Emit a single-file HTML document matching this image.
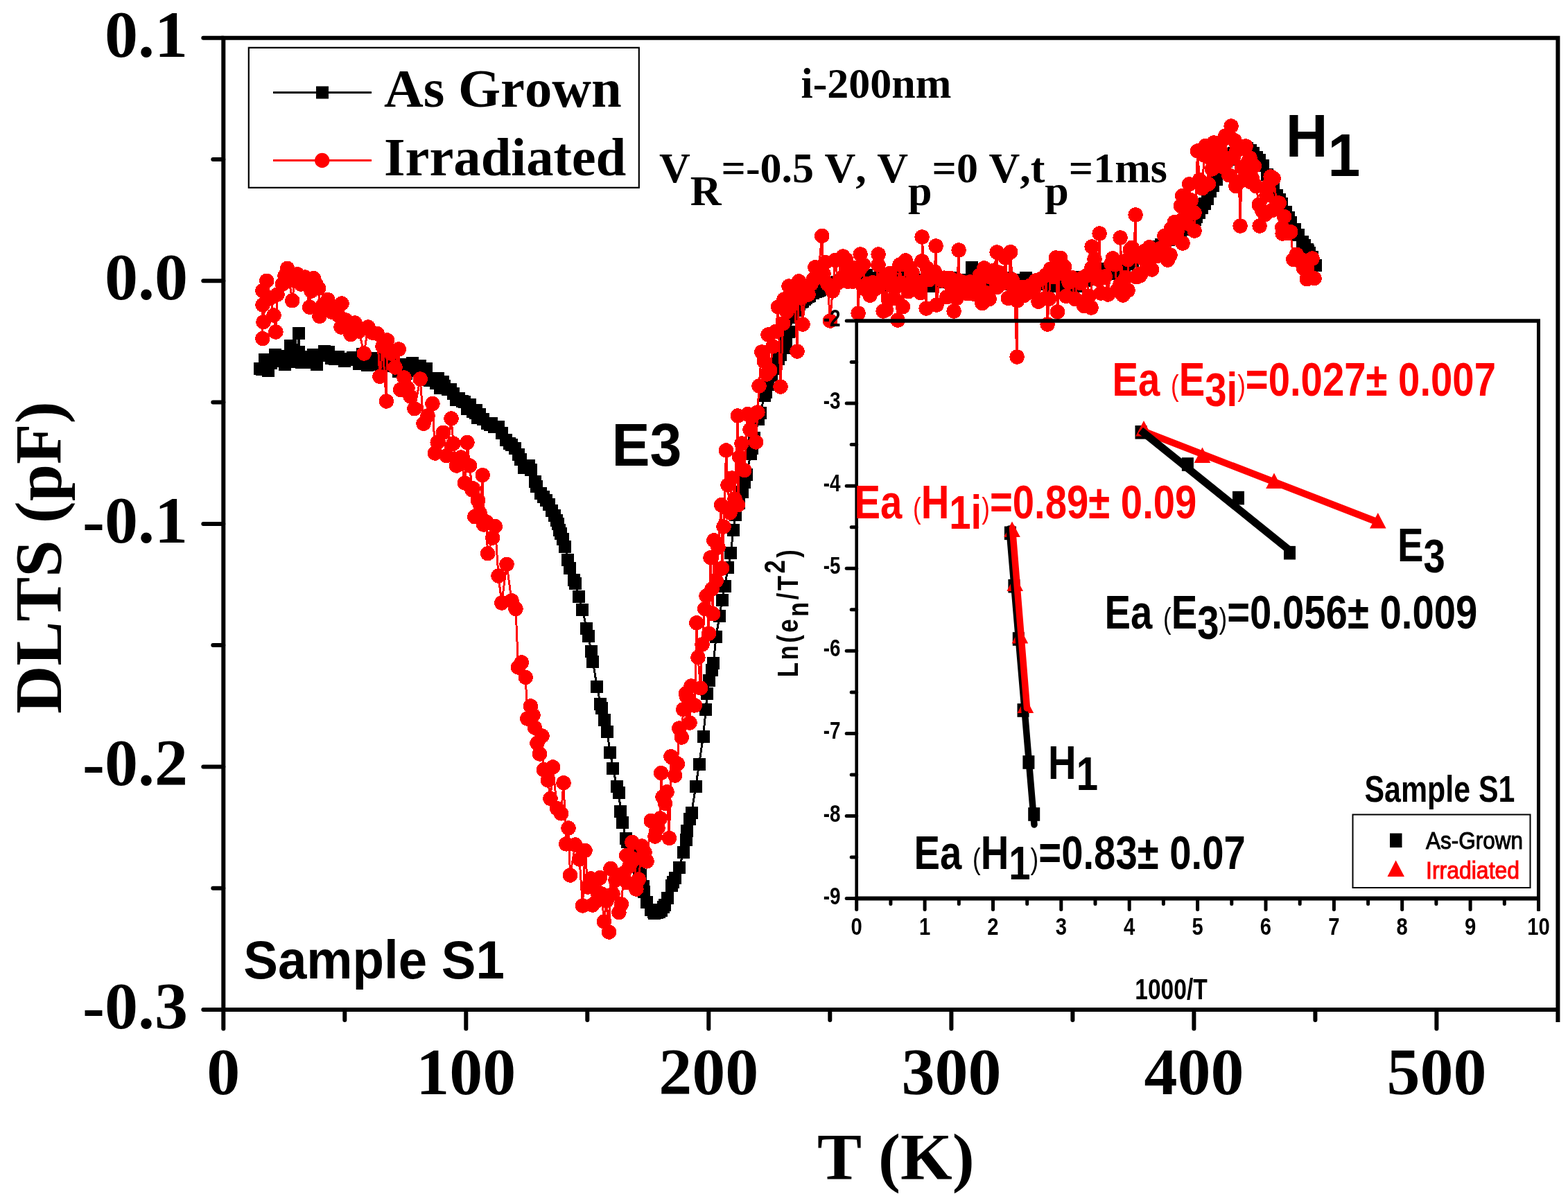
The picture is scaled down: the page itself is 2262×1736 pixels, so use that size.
<!DOCTYPE html>
<html><head><meta charset="utf-8"><title>DLTS spectra</title>
<style>html,body{margin:0;padding:0;background:#fff}svg{display:block}text{font-kerning:none}</style>
</head><body>
<svg width="2262" height="1736" viewBox="0 0 2262 1736">
<rect width="100%" height="100%" fill="#fff"/>
<g id="series-black" shape-rendering="crispEdges">
<polyline fill="none" stroke="#000" stroke-width="3" points="375.0,532.0 377.7,533.1 381.5,519.4 387.4,534.8 391.2,523.6 397.0,512.2 400.8,517.6 404.6,513.6 407.3,520.7 411.1,526.0 416.0,517.0 418.7,522.3 419.0,499.0 423.6,510.7 428.6,516.7 431.0,481.0 431.2,508.0 433.0,517.3 434.7,522.9 438.5,518.0 443.4,515.3 447.2,523.3 448.9,515.0 451.6,512.0 454.2,514.4 456.9,525.7 462.8,513.3 464.5,513.3 468.3,507.0 474.2,507.5 478.0,517.0 482.9,517.6 486.7,515.3 488.4,515.3 492.2,518.0 497.2,521.1 501.0,518.9 506.9,519.0 508.6,516.3 514.5,519.0 518.3,524.5 520.0,519.5 522.6,511.2 528.5,524.0 530.2,526.9 531.9,519.0 533.7,519.3 537.5,522.4 540.1,517.4 545.1,525.7 550.9,523.1 554.7,514.6 558.5,526.8 562.3,519.1 565.0,524.9 567.7,528.1 573.5,526.9 575.3,536.3 579.1,531.0 581.7,526.2 583.4,538.4 586.1,539.0 588.7,528.0 594.6,523.7 600.5,534.9 605.5,527.8 611.4,541.7 613.1,545.1 614.8,531.5 619.7,549.0 623.5,547.9 628.5,553.4 632.3,546.4 634.9,560.1 638.7,550.5 641.4,556.7 646.3,562.2 650.1,561.5 653.9,567.9 657.7,576.8 661.5,575.4 666.5,579.1 670.3,580.3 674.1,590.1 677.9,584.3 681.7,593.9 685.5,596.4 687.2,591.9 688.9,602.8 691.5,597.6 697.4,605.1 703.3,610.6 707.1,613.0 708.8,610.5 712.6,616.4 714.3,615.7 719.3,615.8 724.2,625.0 730.1,634.5 735.0,639.6 737.7,641.8 742.6,647.3 747.6,655.9 751.4,662.7 756.3,674.9 761.3,673.7 763.0,671.8 765.6,677.9 771.5,694.5 774.2,701.9 780.1,712.2 783.9,717.2 787.7,722.2 791.5,728.3 796.4,736.8 800.2,744.4 802.9,750.8 804.6,756.3 807.2,764.7 809.0,769.9 811.6,777.7 815.4,789.1 819.2,808.1 821.9,819.6 827.8,836.6 829.5,841.9 835.4,861.3 840.3,879.5 846.2,906.9 848.9,918.4 852.7,939.5 855.3,954.6 861.2,990.9 866.1,1015.5 867.9,1021.5 871.7,1039.1 875.5,1056.3 880.4,1085.6 884.2,1108.8 890.1,1135.3 892.7,1144.2 895.4,1171.3 898.1,1187.0 903.0,1210.0 904.7,1215.2 908.5,1225.9 912.3,1234.6 918.2,1248.0 922.0,1258.3 923.7,1263.4 927.5,1278.6 929.2,1286.9 933.0,1302.1 938.9,1312.6 942.7,1316.2 944.4,1317.5 948.2,1316.9 950.9,1316.0 953.5,1313.5 957.3,1309.3 959.1,1305.9 962.9,1295.7 968.7,1277.9 971.4,1273.0 974.1,1266.8 980.0,1251.5 985.8,1230.0 989.6,1211.8 991.4,1198.6 995.2,1182.4 997.8,1172.7 1003.7,1134.5 1008.6,1102.5 1014.5,1062.5 1018.3,1024.2 1020.0,1001.4 1022.7,981.9 1026.5,966.5 1029.2,956.5 1033.0,919.2 1037.9,888.6 1041.7,866.0 1045.5,845.8 1050.4,819.1 1054.2,797.8 1058.0,765.1 1060.7,742.5 1065.6,726.1 1070.6,710.3 1074.4,696.1 1077.0,684.8 1082.9,655.3 1084.6,647.4 1088.4,632.2 1094.3,605.2 1097.0,595.6 1102.9,571.3 1104.6,566.2 1108.4,554.8 1113.3,541.7 1117.1,532.2 1123.0,517.8 1125.7,512.1 1130.6,501.5 1134.4,493.4 1138.2,479.4 1144.1,457.8 1147.9,448.0 1150.6,442.3 1153.2,439.3 1155.9,436.3 1157.6,434.5 1161.4,431.6 1163.1,430.2 1165.8,428.2 1167.5,427.1 1173.4,423.4 1177.2,421.2 1179.8,419.8 1181.6,418.8 1183.3,417.9 1189.2,414.6 1193.0,412.5 1195.6,411.2 1199.4,409.3 1204.4,407.7 1208.2,406.6 1212.0,405.4 1215.8,404.3 1218.4,403.5 1223.4,402.0 1226.0,401.2 1228.7,400.4 1231.3,399.6 1235.1,398.5 1237.8,397.7 1243.7,396.1 1249.6,397.4 1254.5,407.8 1256.2,410.0 1261.2,407.0 1267.1,401.0 1272.0,404.0 1277.9,413.0 1279.6,410.0 1281.3,407.0 1285.1,407.0 1288.9,407.0 1290.6,413.0 1294.4,407.0 1299.4,404.0 1302.0,401.0 1307.9,413.0 1310.6,401.0 1314.4,407.0 1320.3,407.0 1325.2,404.0 1329.0,404.0 1334.9,413.0 1336.6,410.0 1339.3,404.0 1343.1,413.0 1345.7,407.0 1349.5,401.0 1355.4,404.0 1359.2,407.0 1364.1,407.0 1369.1,404.0 1372.9,401.0 1377.8,407.0 1379.5,407.0 1384.5,404.0 1389.4,407.0 1391.1,410.0 1396.1,404.0 1401.0,410.0 1402.0,386.0 1406.9,407.0 1410.7,407.0 1415.6,413.0 1419.4,413.0 1423.2,407.0 1429.1,407.0 1434.1,407.0 1439.0,407.0 1443.9,407.0 1446.6,407.0 1448.3,404.0 1453.3,401.0 1457.1,407.0 1459.7,410.0 1463.5,404.0 1465.2,413.0 1469.0,407.0 1474.9,407.0 1478.7,404.0 1480.4,401.0 1482.1,407.0 1488.0,407.0 1489.7,410.0 1495.6,410.0 1499.4,410.0 1504.4,407.0 1509.3,401.0 1511.0,407.0 1516.9,413.0 1522.8,410.0 1528.7,413.0 1532.5,401.0 1536.3,407.0 1541.2,407.0 1546.2,410.0 1550.0,413.0 1553.8,413.0 1555.5,407.0 1558.1,404.4 1559.8,400.4 1561.6,405.7 1567.4,404.5 1571.2,397.8 1573.0,397.4 1575.6,402.9 1579.4,393.1 1585.3,397.9 1590.2,388.0 1594.0,393.2 1599.9,395.0 1603.7,390.7 1607.5,389.3 1610.2,388.4 1614.0,387.1 1617.8,385.6 1621.6,383.4 1625.4,381.3 1628.1,379.9 1633.9,376.6 1639.8,373.2 1641.5,372.2 1643.3,371.1 1647.1,368.9 1649.7,367.3 1653.5,365.2 1657.3,363.0 1663.2,359.8 1668.1,357.0 1670.8,355.5 1674.6,353.3 1680.5,349.8 1686.4,346.4 1691.3,342.9 1697.2,338.6 1703.1,334.4 1708.0,330.7 1713.9,326.2 1719.8,321.7 1723.6,317.3 1726.3,312.9 1730.1,306.5 1733.9,300.2 1737.7,293.9 1741.5,286.7 1746.4,275.6 1750.2,267.8 1755.2,258.5 1761.1,247.3 1762.8,244.1 1765.4,239.1 1769.2,233.3 1771.9,229.5 1775.7,224.3 1779.5,220.5 1785.4,215.9 1788.0,214.8 1789.7,214.0 1794.7,213.3 1797.3,213.7 1799.1,213.9 1804.0,217.3 1807.8,221.0 1812.7,226.6 1816.5,231.2 1822.4,238.9 1828.3,252.2 1832.1,260.7 1833.8,264.6 1836.5,270.6 1842.4,281.6 1846.2,288.4 1848.8,294.0 1854.7,306.4 1858.5,313.5 1862.3,320.6 1868.2,330.9 1873.2,339.1 1879.0,348.9 1881.7,353.8 1885.5,360.0 1887.2,362.3 1888.9,364.6 1892.7,371.4 1897.7,382.7"/>
<g fill="#000"><rect x="366.0" y="523.0" width="18" height="18"/><rect x="368.7" y="524.1" width="18" height="18"/><rect x="372.5" y="510.4" width="18" height="18"/><rect x="378.4" y="525.8" width="18" height="18"/><rect x="382.2" y="514.6" width="18" height="18"/><rect x="388.0" y="503.2" width="18" height="18"/><rect x="391.8" y="508.6" width="18" height="18"/><rect x="395.6" y="504.6" width="18" height="18"/><rect x="398.3" y="511.7" width="18" height="18"/><rect x="402.1" y="517.0" width="18" height="18"/><rect x="407.0" y="508.0" width="18" height="18"/><rect x="409.7" y="513.3" width="18" height="18"/><rect x="410.0" y="490.0" width="18" height="18"/><rect x="414.6" y="501.7" width="18" height="18"/><rect x="419.6" y="507.7" width="18" height="18"/><rect x="422.0" y="472.0" width="18" height="18"/><rect x="422.2" y="499.0" width="18" height="18"/><rect x="424.0" y="508.3" width="18" height="18"/><rect x="425.7" y="513.9" width="18" height="18"/><rect x="429.5" y="509.0" width="18" height="18"/><rect x="434.4" y="506.3" width="18" height="18"/><rect x="438.2" y="514.3" width="18" height="18"/><rect x="439.9" y="506.0" width="18" height="18"/><rect x="442.6" y="503.0" width="18" height="18"/><rect x="445.2" y="505.4" width="18" height="18"/><rect x="447.9" y="516.7" width="18" height="18"/><rect x="453.8" y="504.3" width="18" height="18"/><rect x="455.5" y="504.3" width="18" height="18"/><rect x="459.3" y="498.0" width="18" height="18"/><rect x="465.2" y="498.5" width="18" height="18"/><rect x="469.0" y="508.0" width="18" height="18"/><rect x="473.9" y="508.6" width="18" height="18"/><rect x="477.7" y="506.3" width="18" height="18"/><rect x="479.4" y="506.3" width="18" height="18"/><rect x="483.2" y="509.0" width="18" height="18"/><rect x="488.2" y="512.1" width="18" height="18"/><rect x="492.0" y="509.9" width="18" height="18"/><rect x="497.9" y="510.0" width="18" height="18"/><rect x="499.6" y="507.3" width="18" height="18"/><rect x="505.5" y="510.0" width="18" height="18"/><rect x="509.3" y="515.5" width="18" height="18"/><rect x="511.0" y="510.5" width="18" height="18"/><rect x="513.6" y="502.2" width="18" height="18"/><rect x="519.5" y="515.0" width="18" height="18"/><rect x="521.2" y="517.9" width="18" height="18"/><rect x="522.9" y="510.0" width="18" height="18"/><rect x="524.7" y="510.3" width="18" height="18"/><rect x="528.5" y="513.4" width="18" height="18"/><rect x="531.1" y="508.4" width="18" height="18"/><rect x="536.1" y="516.7" width="18" height="18"/><rect x="541.9" y="514.1" width="18" height="18"/><rect x="545.7" y="505.6" width="18" height="18"/><rect x="549.5" y="517.8" width="18" height="18"/><rect x="553.3" y="510.1" width="18" height="18"/><rect x="556.0" y="515.9" width="18" height="18"/><rect x="558.7" y="519.1" width="18" height="18"/><rect x="564.5" y="517.9" width="18" height="18"/><rect x="566.3" y="527.3" width="18" height="18"/><rect x="570.1" y="522.0" width="18" height="18"/><rect x="572.7" y="517.2" width="18" height="18"/><rect x="574.4" y="529.4" width="18" height="18"/><rect x="577.1" y="530.0" width="18" height="18"/><rect x="579.7" y="519.0" width="18" height="18"/><rect x="585.6" y="514.7" width="18" height="18"/><rect x="591.5" y="525.9" width="18" height="18"/><rect x="596.5" y="518.8" width="18" height="18"/><rect x="602.4" y="532.7" width="18" height="18"/><rect x="604.1" y="536.1" width="18" height="18"/><rect x="605.8" y="522.5" width="18" height="18"/><rect x="610.7" y="540.0" width="18" height="18"/><rect x="614.5" y="538.9" width="18" height="18"/><rect x="619.5" y="544.4" width="18" height="18"/><rect x="623.3" y="537.4" width="18" height="18"/><rect x="625.9" y="551.1" width="18" height="18"/><rect x="629.7" y="541.5" width="18" height="18"/><rect x="632.4" y="547.7" width="18" height="18"/><rect x="637.3" y="553.2" width="18" height="18"/><rect x="641.1" y="552.5" width="18" height="18"/><rect x="644.9" y="558.9" width="18" height="18"/><rect x="648.7" y="567.8" width="18" height="18"/><rect x="652.5" y="566.4" width="18" height="18"/><rect x="657.5" y="570.1" width="18" height="18"/><rect x="661.3" y="571.3" width="18" height="18"/><rect x="665.1" y="581.1" width="18" height="18"/><rect x="668.9" y="575.3" width="18" height="18"/><rect x="672.7" y="584.9" width="18" height="18"/><rect x="676.5" y="587.4" width="18" height="18"/><rect x="678.2" y="582.9" width="18" height="18"/><rect x="679.9" y="593.8" width="18" height="18"/><rect x="682.5" y="588.6" width="18" height="18"/><rect x="688.4" y="596.1" width="18" height="18"/><rect x="694.3" y="601.6" width="18" height="18"/><rect x="698.1" y="604.0" width="18" height="18"/><rect x="699.8" y="601.5" width="18" height="18"/><rect x="703.6" y="607.4" width="18" height="18"/><rect x="705.3" y="606.7" width="18" height="18"/><rect x="710.3" y="606.8" width="18" height="18"/><rect x="715.2" y="616.0" width="18" height="18"/><rect x="721.1" y="625.5" width="18" height="18"/><rect x="726.0" y="630.6" width="18" height="18"/><rect x="728.7" y="632.8" width="18" height="18"/><rect x="733.6" y="638.3" width="18" height="18"/><rect x="738.6" y="646.9" width="18" height="18"/><rect x="742.4" y="653.7" width="18" height="18"/><rect x="747.3" y="665.9" width="18" height="18"/><rect x="752.3" y="664.7" width="18" height="18"/><rect x="754.0" y="662.8" width="18" height="18"/><rect x="756.6" y="668.9" width="18" height="18"/><rect x="762.5" y="685.5" width="18" height="18"/><rect x="765.2" y="692.9" width="18" height="18"/><rect x="771.1" y="703.2" width="18" height="18"/><rect x="774.9" y="708.2" width="18" height="18"/><rect x="778.7" y="713.2" width="18" height="18"/><rect x="782.5" y="719.3" width="18" height="18"/><rect x="787.4" y="727.8" width="18" height="18"/><rect x="791.2" y="735.4" width="18" height="18"/><rect x="793.9" y="741.8" width="18" height="18"/><rect x="795.6" y="747.3" width="18" height="18"/><rect x="798.2" y="755.7" width="18" height="18"/><rect x="800.0" y="760.9" width="18" height="18"/><rect x="802.6" y="768.7" width="18" height="18"/><rect x="806.4" y="780.1" width="18" height="18"/><rect x="810.2" y="799.1" width="18" height="18"/><rect x="812.9" y="810.6" width="18" height="18"/><rect x="818.8" y="827.6" width="18" height="18"/><rect x="820.5" y="832.9" width="18" height="18"/><rect x="826.4" y="852.3" width="18" height="18"/><rect x="831.3" y="870.5" width="18" height="18"/><rect x="837.2" y="897.9" width="18" height="18"/><rect x="839.9" y="909.4" width="18" height="18"/><rect x="843.7" y="930.5" width="18" height="18"/><rect x="846.3" y="945.6" width="18" height="18"/><rect x="852.2" y="981.9" width="18" height="18"/><rect x="857.1" y="1006.5" width="18" height="18"/><rect x="858.9" y="1012.5" width="18" height="18"/><rect x="862.7" y="1030.1" width="18" height="18"/><rect x="866.5" y="1047.3" width="18" height="18"/><rect x="871.4" y="1076.6" width="18" height="18"/><rect x="875.2" y="1099.8" width="18" height="18"/><rect x="881.1" y="1126.3" width="18" height="18"/><rect x="883.7" y="1135.2" width="18" height="18"/><rect x="886.4" y="1162.3" width="18" height="18"/><rect x="889.1" y="1178.0" width="18" height="18"/><rect x="894.0" y="1201.0" width="18" height="18"/><rect x="895.7" y="1206.2" width="18" height="18"/><rect x="899.5" y="1216.9" width="18" height="18"/><rect x="903.3" y="1225.6" width="18" height="18"/><rect x="909.2" y="1239.0" width="18" height="18"/><rect x="913.0" y="1249.3" width="18" height="18"/><rect x="914.7" y="1254.4" width="18" height="18"/><rect x="918.5" y="1269.6" width="18" height="18"/><rect x="920.2" y="1277.9" width="18" height="18"/><rect x="924.0" y="1293.1" width="18" height="18"/><rect x="929.9" y="1303.6" width="18" height="18"/><rect x="933.7" y="1307.2" width="18" height="18"/><rect x="935.4" y="1308.5" width="18" height="18"/><rect x="939.2" y="1307.9" width="18" height="18"/><rect x="941.9" y="1307.0" width="18" height="18"/><rect x="944.5" y="1304.5" width="18" height="18"/><rect x="948.3" y="1300.3" width="18" height="18"/><rect x="950.1" y="1296.9" width="18" height="18"/><rect x="953.9" y="1286.7" width="18" height="18"/><rect x="959.7" y="1268.9" width="18" height="18"/><rect x="962.4" y="1264.0" width="18" height="18"/><rect x="965.1" y="1257.8" width="18" height="18"/><rect x="971.0" y="1242.5" width="18" height="18"/><rect x="976.8" y="1221.0" width="18" height="18"/><rect x="980.6" y="1202.8" width="18" height="18"/><rect x="982.4" y="1189.6" width="18" height="18"/><rect x="986.2" y="1173.4" width="18" height="18"/><rect x="988.8" y="1163.7" width="18" height="18"/><rect x="994.7" y="1125.5" width="18" height="18"/><rect x="999.6" y="1093.5" width="18" height="18"/><rect x="1005.5" y="1053.5" width="18" height="18"/><rect x="1009.3" y="1015.2" width="18" height="18"/><rect x="1011.0" y="992.4" width="18" height="18"/><rect x="1013.7" y="972.9" width="18" height="18"/><rect x="1017.5" y="957.5" width="18" height="18"/><rect x="1020.2" y="947.5" width="18" height="18"/><rect x="1024.0" y="910.2" width="18" height="18"/><rect x="1028.9" y="879.6" width="18" height="18"/><rect x="1032.7" y="857.0" width="18" height="18"/><rect x="1036.5" y="836.8" width="18" height="18"/><rect x="1041.4" y="810.1" width="18" height="18"/><rect x="1045.2" y="788.8" width="18" height="18"/><rect x="1049.0" y="756.1" width="18" height="18"/><rect x="1051.7" y="733.5" width="18" height="18"/><rect x="1056.6" y="717.1" width="18" height="18"/><rect x="1061.6" y="701.3" width="18" height="18"/><rect x="1065.4" y="687.1" width="18" height="18"/><rect x="1068.0" y="675.8" width="18" height="18"/><rect x="1073.9" y="646.3" width="18" height="18"/><rect x="1075.6" y="638.4" width="18" height="18"/><rect x="1079.4" y="623.2" width="18" height="18"/><rect x="1085.3" y="596.2" width="18" height="18"/><rect x="1088.0" y="586.6" width="18" height="18"/><rect x="1093.9" y="562.3" width="18" height="18"/><rect x="1095.6" y="557.2" width="18" height="18"/><rect x="1099.4" y="545.8" width="18" height="18"/><rect x="1104.3" y="532.7" width="18" height="18"/><rect x="1108.1" y="523.2" width="18" height="18"/><rect x="1114.0" y="508.8" width="18" height="18"/><rect x="1116.7" y="503.1" width="18" height="18"/><rect x="1121.6" y="492.5" width="18" height="18"/><rect x="1125.4" y="484.4" width="18" height="18"/><rect x="1129.2" y="470.4" width="18" height="18"/><rect x="1135.1" y="448.8" width="18" height="18"/><rect x="1138.9" y="439.0" width="18" height="18"/><rect x="1141.6" y="433.3" width="18" height="18"/><rect x="1144.2" y="430.3" width="18" height="18"/><rect x="1146.9" y="427.3" width="18" height="18"/><rect x="1148.6" y="425.5" width="18" height="18"/><rect x="1152.4" y="422.6" width="18" height="18"/><rect x="1154.1" y="421.2" width="18" height="18"/><rect x="1156.8" y="419.2" width="18" height="18"/><rect x="1158.5" y="418.1" width="18" height="18"/><rect x="1164.4" y="414.4" width="18" height="18"/><rect x="1168.2" y="412.2" width="18" height="18"/><rect x="1170.8" y="410.8" width="18" height="18"/><rect x="1172.6" y="409.8" width="18" height="18"/><rect x="1174.3" y="408.9" width="18" height="18"/><rect x="1180.2" y="405.6" width="18" height="18"/><rect x="1184.0" y="403.5" width="18" height="18"/><rect x="1186.6" y="402.2" width="18" height="18"/><rect x="1190.4" y="400.3" width="18" height="18"/><rect x="1195.4" y="398.7" width="18" height="18"/><rect x="1199.2" y="397.6" width="18" height="18"/><rect x="1203.0" y="396.4" width="18" height="18"/><rect x="1206.8" y="395.3" width="18" height="18"/><rect x="1209.4" y="394.5" width="18" height="18"/><rect x="1214.4" y="393.0" width="18" height="18"/><rect x="1217.0" y="392.2" width="18" height="18"/><rect x="1219.7" y="391.4" width="18" height="18"/><rect x="1222.3" y="390.6" width="18" height="18"/><rect x="1226.1" y="389.5" width="18" height="18"/><rect x="1228.8" y="388.7" width="18" height="18"/><rect x="1234.7" y="387.1" width="18" height="18"/><rect x="1240.6" y="388.4" width="18" height="18"/><rect x="1245.5" y="398.8" width="18" height="18"/><rect x="1247.2" y="401.0" width="18" height="18"/><rect x="1252.2" y="398.0" width="18" height="18"/><rect x="1258.1" y="392.0" width="18" height="18"/><rect x="1263.0" y="395.0" width="18" height="18"/><rect x="1268.9" y="404.0" width="18" height="18"/><rect x="1270.6" y="401.0" width="18" height="18"/><rect x="1272.3" y="398.0" width="18" height="18"/><rect x="1276.1" y="398.0" width="18" height="18"/><rect x="1279.9" y="398.0" width="18" height="18"/><rect x="1281.6" y="404.0" width="18" height="18"/><rect x="1285.4" y="398.0" width="18" height="18"/><rect x="1290.4" y="395.0" width="18" height="18"/><rect x="1293.0" y="392.0" width="18" height="18"/><rect x="1298.9" y="404.0" width="18" height="18"/><rect x="1301.6" y="392.0" width="18" height="18"/><rect x="1305.4" y="398.0" width="18" height="18"/><rect x="1311.3" y="398.0" width="18" height="18"/><rect x="1316.2" y="395.0" width="18" height="18"/><rect x="1320.0" y="395.0" width="18" height="18"/><rect x="1325.9" y="404.0" width="18" height="18"/><rect x="1327.6" y="401.0" width="18" height="18"/><rect x="1330.3" y="395.0" width="18" height="18"/><rect x="1334.1" y="404.0" width="18" height="18"/><rect x="1336.7" y="398.0" width="18" height="18"/><rect x="1340.5" y="392.0" width="18" height="18"/><rect x="1346.4" y="395.0" width="18" height="18"/><rect x="1350.2" y="398.0" width="18" height="18"/><rect x="1355.1" y="398.0" width="18" height="18"/><rect x="1360.1" y="395.0" width="18" height="18"/><rect x="1363.9" y="392.0" width="18" height="18"/><rect x="1368.8" y="398.0" width="18" height="18"/><rect x="1370.5" y="398.0" width="18" height="18"/><rect x="1375.5" y="395.0" width="18" height="18"/><rect x="1380.4" y="398.0" width="18" height="18"/><rect x="1382.1" y="401.0" width="18" height="18"/><rect x="1387.1" y="395.0" width="18" height="18"/><rect x="1392.0" y="401.0" width="18" height="18"/><rect x="1393.0" y="377.0" width="18" height="18"/><rect x="1397.9" y="398.0" width="18" height="18"/><rect x="1401.7" y="398.0" width="18" height="18"/><rect x="1406.6" y="404.0" width="18" height="18"/><rect x="1410.4" y="404.0" width="18" height="18"/><rect x="1414.2" y="398.0" width="18" height="18"/><rect x="1420.1" y="398.0" width="18" height="18"/><rect x="1425.1" y="398.0" width="18" height="18"/><rect x="1430.0" y="398.0" width="18" height="18"/><rect x="1434.9" y="398.0" width="18" height="18"/><rect x="1437.6" y="398.0" width="18" height="18"/><rect x="1439.3" y="395.0" width="18" height="18"/><rect x="1444.3" y="392.0" width="18" height="18"/><rect x="1448.1" y="398.0" width="18" height="18"/><rect x="1450.7" y="401.0" width="18" height="18"/><rect x="1454.5" y="395.0" width="18" height="18"/><rect x="1456.2" y="404.0" width="18" height="18"/><rect x="1460.0" y="398.0" width="18" height="18"/><rect x="1465.9" y="398.0" width="18" height="18"/><rect x="1469.7" y="395.0" width="18" height="18"/><rect x="1471.4" y="392.0" width="18" height="18"/><rect x="1473.1" y="398.0" width="18" height="18"/><rect x="1479.0" y="398.0" width="18" height="18"/><rect x="1480.7" y="401.0" width="18" height="18"/><rect x="1486.6" y="401.0" width="18" height="18"/><rect x="1490.4" y="401.0" width="18" height="18"/><rect x="1495.4" y="398.0" width="18" height="18"/><rect x="1500.3" y="392.0" width="18" height="18"/><rect x="1502.0" y="398.0" width="18" height="18"/><rect x="1507.9" y="404.0" width="18" height="18"/><rect x="1513.8" y="401.0" width="18" height="18"/><rect x="1519.7" y="404.0" width="18" height="18"/><rect x="1523.5" y="392.0" width="18" height="18"/><rect x="1527.3" y="398.0" width="18" height="18"/><rect x="1532.2" y="398.0" width="18" height="18"/><rect x="1537.2" y="401.0" width="18" height="18"/><rect x="1541.0" y="404.0" width="18" height="18"/><rect x="1544.8" y="404.0" width="18" height="18"/><rect x="1546.5" y="398.0" width="18" height="18"/><rect x="1549.1" y="395.4" width="18" height="18"/><rect x="1550.8" y="391.4" width="18" height="18"/><rect x="1552.6" y="396.7" width="18" height="18"/><rect x="1558.4" y="395.5" width="18" height="18"/><rect x="1562.2" y="388.8" width="18" height="18"/><rect x="1564.0" y="388.4" width="18" height="18"/><rect x="1566.6" y="393.9" width="18" height="18"/><rect x="1570.4" y="384.1" width="18" height="18"/><rect x="1576.3" y="388.9" width="18" height="18"/><rect x="1581.2" y="379.0" width="18" height="18"/><rect x="1585.0" y="384.2" width="18" height="18"/><rect x="1590.9" y="386.0" width="18" height="18"/><rect x="1594.7" y="381.7" width="18" height="18"/><rect x="1598.5" y="380.3" width="18" height="18"/><rect x="1601.2" y="379.4" width="18" height="18"/><rect x="1605.0" y="378.1" width="18" height="18"/><rect x="1608.8" y="376.6" width="18" height="18"/><rect x="1612.6" y="374.4" width="18" height="18"/><rect x="1616.4" y="372.3" width="18" height="18"/><rect x="1619.1" y="370.9" width="18" height="18"/><rect x="1624.9" y="367.6" width="18" height="18"/><rect x="1630.8" y="364.2" width="18" height="18"/><rect x="1632.5" y="363.2" width="18" height="18"/><rect x="1634.3" y="362.1" width="18" height="18"/><rect x="1638.1" y="359.9" width="18" height="18"/><rect x="1640.7" y="358.3" width="18" height="18"/><rect x="1644.5" y="356.2" width="18" height="18"/><rect x="1648.3" y="354.0" width="18" height="18"/><rect x="1654.2" y="350.8" width="18" height="18"/><rect x="1659.1" y="348.0" width="18" height="18"/><rect x="1661.8" y="346.5" width="18" height="18"/><rect x="1665.6" y="344.3" width="18" height="18"/><rect x="1671.5" y="340.8" width="18" height="18"/><rect x="1677.4" y="337.4" width="18" height="18"/><rect x="1682.3" y="333.9" width="18" height="18"/><rect x="1688.2" y="329.6" width="18" height="18"/><rect x="1694.1" y="325.4" width="18" height="18"/><rect x="1699.0" y="321.7" width="18" height="18"/><rect x="1704.9" y="317.2" width="18" height="18"/><rect x="1710.8" y="312.7" width="18" height="18"/><rect x="1714.6" y="308.3" width="18" height="18"/><rect x="1717.3" y="303.9" width="18" height="18"/><rect x="1721.1" y="297.5" width="18" height="18"/><rect x="1724.9" y="291.2" width="18" height="18"/><rect x="1728.7" y="284.9" width="18" height="18"/><rect x="1732.5" y="277.7" width="18" height="18"/><rect x="1737.4" y="266.6" width="18" height="18"/><rect x="1741.2" y="258.8" width="18" height="18"/><rect x="1746.2" y="249.5" width="18" height="18"/><rect x="1752.1" y="238.3" width="18" height="18"/><rect x="1753.8" y="235.1" width="18" height="18"/><rect x="1756.4" y="230.1" width="18" height="18"/><rect x="1760.2" y="224.3" width="18" height="18"/><rect x="1762.9" y="220.5" width="18" height="18"/><rect x="1766.7" y="215.3" width="18" height="18"/><rect x="1770.5" y="211.5" width="18" height="18"/><rect x="1776.4" y="206.9" width="18" height="18"/><rect x="1779.0" y="205.8" width="18" height="18"/><rect x="1780.7" y="205.0" width="18" height="18"/><rect x="1785.7" y="204.3" width="18" height="18"/><rect x="1788.3" y="204.7" width="18" height="18"/><rect x="1790.1" y="204.9" width="18" height="18"/><rect x="1795.0" y="208.3" width="18" height="18"/><rect x="1798.8" y="212.0" width="18" height="18"/><rect x="1803.7" y="217.6" width="18" height="18"/><rect x="1807.5" y="222.2" width="18" height="18"/><rect x="1813.4" y="229.9" width="18" height="18"/><rect x="1819.3" y="243.2" width="18" height="18"/><rect x="1823.1" y="251.7" width="18" height="18"/><rect x="1824.8" y="255.6" width="18" height="18"/><rect x="1827.5" y="261.6" width="18" height="18"/><rect x="1833.4" y="272.6" width="18" height="18"/><rect x="1837.2" y="279.4" width="18" height="18"/><rect x="1839.8" y="285.0" width="18" height="18"/><rect x="1845.7" y="297.4" width="18" height="18"/><rect x="1849.5" y="304.5" width="18" height="18"/><rect x="1853.3" y="311.6" width="18" height="18"/><rect x="1859.2" y="321.9" width="18" height="18"/><rect x="1864.2" y="330.1" width="18" height="18"/><rect x="1870.0" y="339.9" width="18" height="18"/><rect x="1872.7" y="344.8" width="18" height="18"/><rect x="1876.5" y="351.0" width="18" height="18"/><rect x="1878.2" y="353.3" width="18" height="18"/><rect x="1879.9" y="355.6" width="18" height="18"/><rect x="1883.7" y="362.4" width="18" height="18"/><rect x="1888.7" y="373.7" width="18" height="18"/></g>
</g>
<g id="series-red" shape-rendering="crispEdges">
<polyline fill="none" stroke="#f00" stroke-width="3" stroke-linejoin="round" points="378.8,488.6 378.8,419.5 379.0,440.0 380.0,464.8 384.8,405.2 390.0,430.0 395.0,455.0 397.9,479.0 400.0,425.0 407.4,410.0 411.0,398.0 414.5,387.4 421.7,433.8 425.0,405.0 428.8,395.7 434.0,410.0 440.0,400.0 446.7,443.3 449.0,420.0 452.6,401.7 456.0,410.0 459.8,416.0 461.0,456.4 466.0,440.0 472.9,432.6 478.0,450.0 484.0,445.0 488.0,455.0 492.0,472.0 493.0,438.0 499.0,462.0 506.0,482.6 512.0,466.0 518.0,478.0 525.2,510.0 531.0,472.0 537.0,480.0 544.3,481.4 547.9,543.3 552.0,500.0 557.4,579.0 558.6,491.0 564.0,510.0 570.0,530.0 575.2,504.0 577.6,562.4 583.0,545.0 588.0,560.0 592.0,572.0 597.9,589.8 606.2,547.0 611.0,611.2 617.0,600.0 624.0,582.6 627.6,654.0 631.2,638.6 639.5,624.3 644.3,657.6 651.0,604.0 654.0,640.0 658.6,672.0 665.0,660.0 670.5,697.0 674.0,638.6 677.6,672.0 681.0,707.0 682.4,705.0 684.8,745.7 685.7,745.0 689.5,722.0 692.0,740.0 696.2,685.7 697.6,757.0 701.4,753.0 703.6,798.8 710.7,776.2 714.3,759.5 719.0,831.0 723.8,870.0 731.0,814.3 738.0,866.7 744.0,878.6 747.6,963.0 752.4,956.0 758.3,977.4 760.7,1037.0 765.5,1019.0 769.0,1032.0 771.4,1050.0 775.0,1072.6 778.6,1088.0 782.0,1062.0 784.5,1110.7 790.5,1126.0 794.0,1152.4 797.6,1107.0 803.6,1166.7 809.5,1173.8 813.0,1129.8 816.7,1217.9 820.0,1195.0 822.6,1263.0 829.8,1219.0 836.0,1240.0 840.5,1307.0 844.0,1227.4 848.0,1280.0 852.4,1267.9 854.8,1306.0 858.0,1275.0 861.0,1300.0 865.5,1266.7 868.0,1290.0 871.4,1329.8 875.0,1300.0 878.6,1345.0 881.0,1253.6 884.0,1290.0 888.0,1270.0 892.9,1316.7 896.4,1304.8 900.0,1260.0 903.6,1234.5 904.8,1273.8 908.0,1250.0 911.9,1215.5 915.0,1240.0 917.9,1283.0 921.4,1269.0 926.0,1221.0 930.0,1230.0 933.0,1242.9 939.3,1184.5 945.0,1207.0 949.0,1195.0 952.4,1181.0 953.6,1115.5 956.0,1150.0 959.5,1159.5 962.0,1142.9 965.5,1209.5 967.9,1091.7 969.0,1092.9 973.8,1119.0 977.4,1102.4 979.8,1051.0 983.3,1064.0 985.7,1023.8 989.3,1001.0 990.5,1004.8 995.0,1043.0 997.0,990.0 1001.0,1017.9 1002.4,1017.9 1004.8,898.8 1007.0,948.8 1010.7,992.9 1013.0,930.0 1016.7,878.6 1019.0,860.0 1022.6,914.3 1025.0,804.8 1027.0,850.0 1028.6,885.7 1029.8,779.8 1033.3,838.0 1036.0,790.0 1040.5,728.6 1041.7,820.0 1044.0,760.0 1047.6,650.0 1050.0,700.0 1053.0,740.0 1056.0,690.0 1060.0,720.0 1064.3,600.0 1064.5,728.6 1066.7,659.5 1070.0,640.0 1073.8,678.6 1078.6,597.6 1082.0,620.0 1086.0,600.0 1090.5,638.0 1092.9,595.0 1095.0,557.0 1098.8,508.0 1102.4,521.4 1106.0,540.0 1108.0,483.0 1110.7,534.5 1115.0,500.0 1119.0,478.6 1122.6,442.9 1126.0,558.0 1129.8,466.7 1131.0,432.0 1135.0,450.0 1138.0,413.0 1142.0,440.0 1146.0,425.0 1150.0,507.0 1152.4,406.0 1156.0,430.0 1158.0,468.0 1162.0,415.0 1166.0,425.0 1170.0,410.0 1173.8,402.4 1176.0,385.7 1180.0,400.0 1185.7,340.5 1188.0,395.0 1190.5,378.6 1194.0,410.0 1197.6,463.0 1201.0,420.0 1205.0,375.5 1209.0,408.0 1213.0,374.3 1215.8,399.9 1216.1,370.0 1220.4,374.4 1223.2,406.2 1225.4,391.8 1230.0,406.4 1232.2,386.4 1236.2,392.1 1238.1,452.0 1240.8,387.6 1241.1,367.0 1245.4,381.9 1247.6,416.8 1250.4,409.7 1255.0,426.2 1259.0,407.9 1263.6,416.4 1267.0,382.4 1267.1,367.0 1271.0,410.5 1274.1,449.0 1274.4,401.8 1278.4,447.0 1280.6,399.7 1284.0,394.5 1287.4,413.0 1289.6,430.3 1293.6,413.5 1295.1,462.0 1295.8,409.9 1298.0,382.0 1300.2,408.4 1302.4,442.7 1306.4,376.0 1310.4,420.6 1312.6,386.3 1316.0,393.3 1319.4,414.1 1323.4,408.3 1325.6,419.8 1327.8,422.6 1330.0,376.7 1330.1,342.0 1334.6,404.4 1336.1,445.0 1337.4,387.2 1340.2,403.8 1344.2,393.6 1348.2,392.1 1350.1,355.0 1351.0,440.1 1355.6,400.7 1359.0,404.9 1361.8,401.1 1365.8,428.7 1370.4,401.3 1372.6,413.1 1376.1,449.0 1376.6,405.6 1380.0,430.4 1383.1,361.0 1383.4,405.0 1387.4,411.5 1392.0,408.1 1394.8,423.6 1399.4,406.8 1403.4,423.9 1408.0,424.9 1410.8,414.6 1413.6,396.9 1417.0,437.7 1419.8,386.9 1422.6,422.6 1427.2,431.4 1430.0,400.4 1434.0,390.1 1438.1,364.0 1438.6,414.4 1440.8,412.0 1443.0,394.0 1447.0,408.5 1450.4,371.8 1454.4,430.4 1457.8,363.7 1460.0,403.4 1462.8,412.4 1467.1,515.0 1467.4,434.0 1472.0,420.6 1474.8,414.2 1477.0,426.5 1479.8,416.3 1482.0,423.0 1486.6,411.8 1491.2,415.4 1494.0,405.0 1498.0,435.2 1502.6,402.2 1507.2,430.7 1509.4,396.5 1511.1,468.0 1513.4,431.2 1515.6,388.1 1517.8,398.1 1520.0,399.8 1523.4,372.0 1525.6,450.0 1529.6,372.3 1532.4,394.1 1535.8,385.0 1538.0,427.4 1542.0,407.3 1546.0,400.6 1550.6,431.3 1554.6,404.1 1559.2,408.5 1561.4,401.1 1563.6,441.3 1567.0,398.0 1571.0,427.4 1574.1,444.0 1575.0,386.3 1575.1,356.0 1579.0,373.9 1583.6,403.1 1586.1,337.0 1588.2,423.0 1592.2,400.6 1594.4,399.0 1598.4,425.0 1603.0,380.7 1605.2,372.9 1608.6,381.9 1611.4,419.2 1616.0,410.2 1616.1,343.0 1620.0,426.0 1624.0,400.6 1627.1,419.0 1627.4,374.6 1630.2,360.9 1633.0,357.2 1635.8,363.5 1638.1,310.0 1639.2,399.8 1642.0,396.6 1644.2,398.0 1646.4,394.8 1649.2,373.3 1651.4,362.2 1654.2,381.2 1658.2,356.8 1661.6,389.0 1666.2,361.5 1668.4,369.6 1671.8,368.6 1675.2,357.7 1679.8,340.5 1684.4,375.2 1686.6,336.5 1688.1,368.0 1689.4,330.0 1691.6,343.7 1694.4,320.6 1696.6,341.7 1698.8,326.4 1703.4,297.1 1705.6,282.7 1706.1,351.0 1708.4,313.6 1711.2,321.9 1713.4,296.3 1715.6,265.8 1718.4,289.0 1723.0,307.2 1723.1,333.0 1727.6,218.0 1730.4,259.5 1734.4,271.6 1737.2,224.1 1739.4,210.2 1740.1,215.0 1743.4,265.5 1746.2,228.7 1748.4,244.0 1751.1,206.0 1752.4,209.9 1757.0,226.5 1760.1,215.0 1760.4,206.3 1763.2,240.4 1765.4,226.7 1767.6,196.3 1770.4,233.1 1772.6,252.6 1776.0,199.2 1776.1,182.0 1779.4,226.4 1781.1,203.0 1782.8,268.6 1786.2,216.2 1789.1,326.0 1790.8,260.9 1795.1,240.0 1795.4,257.8 1797.1,211.0 1799.4,254.0 1801.6,232.0 1803.1,228.0 1804.4,262.9 1806.6,257.5 1809.4,239.7 1812.2,268.5 1816.2,295.3 1817.1,326.0 1820.8,304.0 1824.8,309.8 1827.0,281.8 1829.8,268.1 1833.1,255.0 1834.4,303.9 1837.2,257.7 1841.8,292.8 1845.2,293.0 1849.8,328.4 1850.1,337.0 1852.6,312.5 1857.2,336.4 1861.8,334.6 1865.8,374.4 1870.4,367.4 1874.4,376.4 1876.6,374.4 1880.6,387.3 1885.2,402.8 1889.2,375.5 1891.4,400.1 1893.1,373.0 1896.0,401.8"/>
<g fill="#f00"><circle cx="378.8" cy="488.6" r="10.7"/><circle cx="378.8" cy="419.5" r="10.7"/><circle cx="379.0" cy="440.0" r="10.7"/><circle cx="380.0" cy="464.8" r="10.7"/><circle cx="384.8" cy="405.2" r="10.7"/><circle cx="390.0" cy="430.0" r="10.7"/><circle cx="395.0" cy="455.0" r="10.7"/><circle cx="397.9" cy="479.0" r="10.7"/><circle cx="400.0" cy="425.0" r="10.7"/><circle cx="407.4" cy="410.0" r="10.7"/><circle cx="411.0" cy="398.0" r="10.7"/><circle cx="414.5" cy="387.4" r="10.7"/><circle cx="421.7" cy="433.8" r="10.7"/><circle cx="425.0" cy="405.0" r="10.7"/><circle cx="428.8" cy="395.7" r="10.7"/><circle cx="434.0" cy="410.0" r="10.7"/><circle cx="440.0" cy="400.0" r="10.7"/><circle cx="446.7" cy="443.3" r="10.7"/><circle cx="449.0" cy="420.0" r="10.7"/><circle cx="452.6" cy="401.7" r="10.7"/><circle cx="456.0" cy="410.0" r="10.7"/><circle cx="459.8" cy="416.0" r="10.7"/><circle cx="461.0" cy="456.4" r="10.7"/><circle cx="466.0" cy="440.0" r="10.7"/><circle cx="472.9" cy="432.6" r="10.7"/><circle cx="478.0" cy="450.0" r="10.7"/><circle cx="484.0" cy="445.0" r="10.7"/><circle cx="488.0" cy="455.0" r="10.7"/><circle cx="492.0" cy="472.0" r="10.7"/><circle cx="493.0" cy="438.0" r="10.7"/><circle cx="499.0" cy="462.0" r="10.7"/><circle cx="506.0" cy="482.6" r="10.7"/><circle cx="512.0" cy="466.0" r="10.7"/><circle cx="518.0" cy="478.0" r="10.7"/><circle cx="525.2" cy="510.0" r="10.7"/><circle cx="531.0" cy="472.0" r="10.7"/><circle cx="537.0" cy="480.0" r="10.7"/><circle cx="544.3" cy="481.4" r="10.7"/><circle cx="547.9" cy="543.3" r="10.7"/><circle cx="552.0" cy="500.0" r="10.7"/><circle cx="557.4" cy="579.0" r="10.7"/><circle cx="558.6" cy="491.0" r="10.7"/><circle cx="564.0" cy="510.0" r="10.7"/><circle cx="570.0" cy="530.0" r="10.7"/><circle cx="575.2" cy="504.0" r="10.7"/><circle cx="577.6" cy="562.4" r="10.7"/><circle cx="583.0" cy="545.0" r="10.7"/><circle cx="588.0" cy="560.0" r="10.7"/><circle cx="592.0" cy="572.0" r="10.7"/><circle cx="597.9" cy="589.8" r="10.7"/><circle cx="606.2" cy="547.0" r="10.7"/><circle cx="611.0" cy="611.2" r="10.7"/><circle cx="617.0" cy="600.0" r="10.7"/><circle cx="624.0" cy="582.6" r="10.7"/><circle cx="627.6" cy="654.0" r="10.7"/><circle cx="631.2" cy="638.6" r="10.7"/><circle cx="639.5" cy="624.3" r="10.7"/><circle cx="644.3" cy="657.6" r="10.7"/><circle cx="651.0" cy="604.0" r="10.7"/><circle cx="654.0" cy="640.0" r="10.7"/><circle cx="658.6" cy="672.0" r="10.7"/><circle cx="665.0" cy="660.0" r="10.7"/><circle cx="670.5" cy="697.0" r="10.7"/><circle cx="674.0" cy="638.6" r="10.7"/><circle cx="677.6" cy="672.0" r="10.7"/><circle cx="681.0" cy="707.0" r="10.7"/><circle cx="682.4" cy="705.0" r="10.7"/><circle cx="684.8" cy="745.7" r="10.7"/><circle cx="685.7" cy="745.0" r="10.7"/><circle cx="689.5" cy="722.0" r="10.7"/><circle cx="692.0" cy="740.0" r="10.7"/><circle cx="696.2" cy="685.7" r="10.7"/><circle cx="697.6" cy="757.0" r="10.7"/><circle cx="701.4" cy="753.0" r="10.7"/><circle cx="703.6" cy="798.8" r="10.7"/><circle cx="710.7" cy="776.2" r="10.7"/><circle cx="714.3" cy="759.5" r="10.7"/><circle cx="719.0" cy="831.0" r="10.7"/><circle cx="723.8" cy="870.0" r="10.7"/><circle cx="731.0" cy="814.3" r="10.7"/><circle cx="738.0" cy="866.7" r="10.7"/><circle cx="744.0" cy="878.6" r="10.7"/><circle cx="747.6" cy="963.0" r="10.7"/><circle cx="752.4" cy="956.0" r="10.7"/><circle cx="758.3" cy="977.4" r="10.7"/><circle cx="760.7" cy="1037.0" r="10.7"/><circle cx="765.5" cy="1019.0" r="10.7"/><circle cx="769.0" cy="1032.0" r="10.7"/><circle cx="771.4" cy="1050.0" r="10.7"/><circle cx="775.0" cy="1072.6" r="10.7"/><circle cx="778.6" cy="1088.0" r="10.7"/><circle cx="782.0" cy="1062.0" r="10.7"/><circle cx="784.5" cy="1110.7" r="10.7"/><circle cx="790.5" cy="1126.0" r="10.7"/><circle cx="794.0" cy="1152.4" r="10.7"/><circle cx="797.6" cy="1107.0" r="10.7"/><circle cx="803.6" cy="1166.7" r="10.7"/><circle cx="809.5" cy="1173.8" r="10.7"/><circle cx="813.0" cy="1129.8" r="10.7"/><circle cx="816.7" cy="1217.9" r="10.7"/><circle cx="820.0" cy="1195.0" r="10.7"/><circle cx="822.6" cy="1263.0" r="10.7"/><circle cx="829.8" cy="1219.0" r="10.7"/><circle cx="836.0" cy="1240.0" r="10.7"/><circle cx="840.5" cy="1307.0" r="10.7"/><circle cx="844.0" cy="1227.4" r="10.7"/><circle cx="848.0" cy="1280.0" r="10.7"/><circle cx="852.4" cy="1267.9" r="10.7"/><circle cx="854.8" cy="1306.0" r="10.7"/><circle cx="858.0" cy="1275.0" r="10.7"/><circle cx="861.0" cy="1300.0" r="10.7"/><circle cx="865.5" cy="1266.7" r="10.7"/><circle cx="868.0" cy="1290.0" r="10.7"/><circle cx="871.4" cy="1329.8" r="10.7"/><circle cx="875.0" cy="1300.0" r="10.7"/><circle cx="878.6" cy="1345.0" r="10.7"/><circle cx="881.0" cy="1253.6" r="10.7"/><circle cx="884.0" cy="1290.0" r="10.7"/><circle cx="888.0" cy="1270.0" r="10.7"/><circle cx="892.9" cy="1316.7" r="10.7"/><circle cx="896.4" cy="1304.8" r="10.7"/><circle cx="900.0" cy="1260.0" r="10.7"/><circle cx="903.6" cy="1234.5" r="10.7"/><circle cx="904.8" cy="1273.8" r="10.7"/><circle cx="908.0" cy="1250.0" r="10.7"/><circle cx="911.9" cy="1215.5" r="10.7"/><circle cx="915.0" cy="1240.0" r="10.7"/><circle cx="917.9" cy="1283.0" r="10.7"/><circle cx="921.4" cy="1269.0" r="10.7"/><circle cx="926.0" cy="1221.0" r="10.7"/><circle cx="930.0" cy="1230.0" r="10.7"/><circle cx="933.0" cy="1242.9" r="10.7"/><circle cx="939.3" cy="1184.5" r="10.7"/><circle cx="945.0" cy="1207.0" r="10.7"/><circle cx="949.0" cy="1195.0" r="10.7"/><circle cx="952.4" cy="1181.0" r="10.7"/><circle cx="953.6" cy="1115.5" r="10.7"/><circle cx="956.0" cy="1150.0" r="10.7"/><circle cx="959.5" cy="1159.5" r="10.7"/><circle cx="962.0" cy="1142.9" r="10.7"/><circle cx="965.5" cy="1209.5" r="10.7"/><circle cx="967.9" cy="1091.7" r="10.7"/><circle cx="969.0" cy="1092.9" r="10.7"/><circle cx="973.8" cy="1119.0" r="10.7"/><circle cx="977.4" cy="1102.4" r="10.7"/><circle cx="979.8" cy="1051.0" r="10.7"/><circle cx="983.3" cy="1064.0" r="10.7"/><circle cx="985.7" cy="1023.8" r="10.7"/><circle cx="989.3" cy="1001.0" r="10.7"/><circle cx="990.5" cy="1004.8" r="10.7"/><circle cx="995.0" cy="1043.0" r="10.7"/><circle cx="997.0" cy="990.0" r="10.7"/><circle cx="1001.0" cy="1017.9" r="10.7"/><circle cx="1002.4" cy="1017.9" r="10.7"/><circle cx="1004.8" cy="898.8" r="10.7"/><circle cx="1007.0" cy="948.8" r="10.7"/><circle cx="1010.7" cy="992.9" r="10.7"/><circle cx="1013.0" cy="930.0" r="10.7"/><circle cx="1016.7" cy="878.6" r="10.7"/><circle cx="1019.0" cy="860.0" r="10.7"/><circle cx="1022.6" cy="914.3" r="10.7"/><circle cx="1025.0" cy="804.8" r="10.7"/><circle cx="1027.0" cy="850.0" r="10.7"/><circle cx="1028.6" cy="885.7" r="10.7"/><circle cx="1029.8" cy="779.8" r="10.7"/><circle cx="1033.3" cy="838.0" r="10.7"/><circle cx="1036.0" cy="790.0" r="10.7"/><circle cx="1040.5" cy="728.6" r="10.7"/><circle cx="1041.7" cy="820.0" r="10.7"/><circle cx="1044.0" cy="760.0" r="10.7"/><circle cx="1047.6" cy="650.0" r="10.7"/><circle cx="1050.0" cy="700.0" r="10.7"/><circle cx="1053.0" cy="740.0" r="10.7"/><circle cx="1056.0" cy="690.0" r="10.7"/><circle cx="1060.0" cy="720.0" r="10.7"/><circle cx="1064.3" cy="600.0" r="10.7"/><circle cx="1064.5" cy="728.6" r="10.7"/><circle cx="1066.7" cy="659.5" r="10.7"/><circle cx="1070.0" cy="640.0" r="10.7"/><circle cx="1073.8" cy="678.6" r="10.7"/><circle cx="1078.6" cy="597.6" r="10.7"/><circle cx="1082.0" cy="620.0" r="10.7"/><circle cx="1086.0" cy="600.0" r="10.7"/><circle cx="1090.5" cy="638.0" r="10.7"/><circle cx="1092.9" cy="595.0" r="10.7"/><circle cx="1095.0" cy="557.0" r="10.7"/><circle cx="1098.8" cy="508.0" r="10.7"/><circle cx="1102.4" cy="521.4" r="10.7"/><circle cx="1106.0" cy="540.0" r="10.7"/><circle cx="1108.0" cy="483.0" r="10.7"/><circle cx="1110.7" cy="534.5" r="10.7"/><circle cx="1115.0" cy="500.0" r="10.7"/><circle cx="1119.0" cy="478.6" r="10.7"/><circle cx="1122.6" cy="442.9" r="10.7"/><circle cx="1126.0" cy="558.0" r="10.7"/><circle cx="1129.8" cy="466.7" r="10.7"/><circle cx="1131.0" cy="432.0" r="10.7"/><circle cx="1135.0" cy="450.0" r="10.7"/><circle cx="1138.0" cy="413.0" r="10.7"/><circle cx="1142.0" cy="440.0" r="10.7"/><circle cx="1146.0" cy="425.0" r="10.7"/><circle cx="1150.0" cy="507.0" r="10.7"/><circle cx="1152.4" cy="406.0" r="10.7"/><circle cx="1156.0" cy="430.0" r="10.7"/><circle cx="1158.0" cy="468.0" r="10.7"/><circle cx="1162.0" cy="415.0" r="10.7"/><circle cx="1166.0" cy="425.0" r="10.7"/><circle cx="1170.0" cy="410.0" r="10.7"/><circle cx="1173.8" cy="402.4" r="10.7"/><circle cx="1176.0" cy="385.7" r="10.7"/><circle cx="1180.0" cy="400.0" r="10.7"/><circle cx="1185.7" cy="340.5" r="10.7"/><circle cx="1188.0" cy="395.0" r="10.7"/><circle cx="1190.5" cy="378.6" r="10.7"/><circle cx="1194.0" cy="410.0" r="10.7"/><circle cx="1197.6" cy="463.0" r="10.7"/><circle cx="1201.0" cy="420.0" r="10.7"/><circle cx="1205.0" cy="375.5" r="10.7"/><circle cx="1209.0" cy="408.0" r="10.7"/><circle cx="1213.0" cy="374.3" r="10.7"/><circle cx="1215.8" cy="399.9" r="10.7"/><circle cx="1216.1" cy="370.0" r="10.7"/><circle cx="1220.4" cy="374.4" r="10.7"/><circle cx="1223.2" cy="406.2" r="10.7"/><circle cx="1225.4" cy="391.8" r="10.7"/><circle cx="1230.0" cy="406.4" r="10.7"/><circle cx="1232.2" cy="386.4" r="10.7"/><circle cx="1236.2" cy="392.1" r="10.7"/><circle cx="1238.1" cy="452.0" r="10.7"/><circle cx="1240.8" cy="387.6" r="10.7"/><circle cx="1241.1" cy="367.0" r="10.7"/><circle cx="1245.4" cy="381.9" r="10.7"/><circle cx="1247.6" cy="416.8" r="10.7"/><circle cx="1250.4" cy="409.7" r="10.7"/><circle cx="1255.0" cy="426.2" r="10.7"/><circle cx="1259.0" cy="407.9" r="10.7"/><circle cx="1263.6" cy="416.4" r="10.7"/><circle cx="1267.0" cy="382.4" r="10.7"/><circle cx="1267.1" cy="367.0" r="10.7"/><circle cx="1271.0" cy="410.5" r="10.7"/><circle cx="1274.1" cy="449.0" r="10.7"/><circle cx="1274.4" cy="401.8" r="10.7"/><circle cx="1278.4" cy="447.0" r="10.7"/><circle cx="1280.6" cy="399.7" r="10.7"/><circle cx="1284.0" cy="394.5" r="10.7"/><circle cx="1287.4" cy="413.0" r="10.7"/><circle cx="1289.6" cy="430.3" r="10.7"/><circle cx="1293.6" cy="413.5" r="10.7"/><circle cx="1295.1" cy="462.0" r="10.7"/><circle cx="1295.8" cy="409.9" r="10.7"/><circle cx="1298.0" cy="382.0" r="10.7"/><circle cx="1300.2" cy="408.4" r="10.7"/><circle cx="1302.4" cy="442.7" r="10.7"/><circle cx="1306.4" cy="376.0" r="10.7"/><circle cx="1310.4" cy="420.6" r="10.7"/><circle cx="1312.6" cy="386.3" r="10.7"/><circle cx="1316.0" cy="393.3" r="10.7"/><circle cx="1319.4" cy="414.1" r="10.7"/><circle cx="1323.4" cy="408.3" r="10.7"/><circle cx="1325.6" cy="419.8" r="10.7"/><circle cx="1327.8" cy="422.6" r="10.7"/><circle cx="1330.0" cy="376.7" r="10.7"/><circle cx="1330.1" cy="342.0" r="10.7"/><circle cx="1334.6" cy="404.4" r="10.7"/><circle cx="1336.1" cy="445.0" r="10.7"/><circle cx="1337.4" cy="387.2" r="10.7"/><circle cx="1340.2" cy="403.8" r="10.7"/><circle cx="1344.2" cy="393.6" r="10.7"/><circle cx="1348.2" cy="392.1" r="10.7"/><circle cx="1350.1" cy="355.0" r="10.7"/><circle cx="1351.0" cy="440.1" r="10.7"/><circle cx="1355.6" cy="400.7" r="10.7"/><circle cx="1359.0" cy="404.9" r="10.7"/><circle cx="1361.8" cy="401.1" r="10.7"/><circle cx="1365.8" cy="428.7" r="10.7"/><circle cx="1370.4" cy="401.3" r="10.7"/><circle cx="1372.6" cy="413.1" r="10.7"/><circle cx="1376.1" cy="449.0" r="10.7"/><circle cx="1376.6" cy="405.6" r="10.7"/><circle cx="1380.0" cy="430.4" r="10.7"/><circle cx="1383.1" cy="361.0" r="10.7"/><circle cx="1383.4" cy="405.0" r="10.7"/><circle cx="1387.4" cy="411.5" r="10.7"/><circle cx="1392.0" cy="408.1" r="10.7"/><circle cx="1394.8" cy="423.6" r="10.7"/><circle cx="1399.4" cy="406.8" r="10.7"/><circle cx="1403.4" cy="423.9" r="10.7"/><circle cx="1408.0" cy="424.9" r="10.7"/><circle cx="1410.8" cy="414.6" r="10.7"/><circle cx="1413.6" cy="396.9" r="10.7"/><circle cx="1417.0" cy="437.7" r="10.7"/><circle cx="1419.8" cy="386.9" r="10.7"/><circle cx="1422.6" cy="422.6" r="10.7"/><circle cx="1427.2" cy="431.4" r="10.7"/><circle cx="1430.0" cy="400.4" r="10.7"/><circle cx="1434.0" cy="390.1" r="10.7"/><circle cx="1438.1" cy="364.0" r="10.7"/><circle cx="1438.6" cy="414.4" r="10.7"/><circle cx="1440.8" cy="412.0" r="10.7"/><circle cx="1443.0" cy="394.0" r="10.7"/><circle cx="1447.0" cy="408.5" r="10.7"/><circle cx="1450.4" cy="371.8" r="10.7"/><circle cx="1454.4" cy="430.4" r="10.7"/><circle cx="1457.8" cy="363.7" r="10.7"/><circle cx="1460.0" cy="403.4" r="10.7"/><circle cx="1462.8" cy="412.4" r="10.7"/><circle cx="1467.1" cy="515.0" r="10.7"/><circle cx="1467.4" cy="434.0" r="10.7"/><circle cx="1472.0" cy="420.6" r="10.7"/><circle cx="1474.8" cy="414.2" r="10.7"/><circle cx="1477.0" cy="426.5" r="10.7"/><circle cx="1479.8" cy="416.3" r="10.7"/><circle cx="1482.0" cy="423.0" r="10.7"/><circle cx="1486.6" cy="411.8" r="10.7"/><circle cx="1491.2" cy="415.4" r="10.7"/><circle cx="1494.0" cy="405.0" r="10.7"/><circle cx="1498.0" cy="435.2" r="10.7"/><circle cx="1502.6" cy="402.2" r="10.7"/><circle cx="1507.2" cy="430.7" r="10.7"/><circle cx="1509.4" cy="396.5" r="10.7"/><circle cx="1511.1" cy="468.0" r="10.7"/><circle cx="1513.4" cy="431.2" r="10.7"/><circle cx="1515.6" cy="388.1" r="10.7"/><circle cx="1517.8" cy="398.1" r="10.7"/><circle cx="1520.0" cy="399.8" r="10.7"/><circle cx="1523.4" cy="372.0" r="10.7"/><circle cx="1525.6" cy="450.0" r="10.7"/><circle cx="1529.6" cy="372.3" r="10.7"/><circle cx="1532.4" cy="394.1" r="10.7"/><circle cx="1535.8" cy="385.0" r="10.7"/><circle cx="1538.0" cy="427.4" r="10.7"/><circle cx="1542.0" cy="407.3" r="10.7"/><circle cx="1546.0" cy="400.6" r="10.7"/><circle cx="1550.6" cy="431.3" r="10.7"/><circle cx="1554.6" cy="404.1" r="10.7"/><circle cx="1559.2" cy="408.5" r="10.7"/><circle cx="1561.4" cy="401.1" r="10.7"/><circle cx="1563.6" cy="441.3" r="10.7"/><circle cx="1567.0" cy="398.0" r="10.7"/><circle cx="1571.0" cy="427.4" r="10.7"/><circle cx="1574.1" cy="444.0" r="10.7"/><circle cx="1575.0" cy="386.3" r="10.7"/><circle cx="1575.1" cy="356.0" r="10.7"/><circle cx="1579.0" cy="373.9" r="10.7"/><circle cx="1583.6" cy="403.1" r="10.7"/><circle cx="1586.1" cy="337.0" r="10.7"/><circle cx="1588.2" cy="423.0" r="10.7"/><circle cx="1592.2" cy="400.6" r="10.7"/><circle cx="1594.4" cy="399.0" r="10.7"/><circle cx="1598.4" cy="425.0" r="10.7"/><circle cx="1603.0" cy="380.7" r="10.7"/><circle cx="1605.2" cy="372.9" r="10.7"/><circle cx="1608.6" cy="381.9" r="10.7"/><circle cx="1611.4" cy="419.2" r="10.7"/><circle cx="1616.0" cy="410.2" r="10.7"/><circle cx="1616.1" cy="343.0" r="10.7"/><circle cx="1620.0" cy="426.0" r="10.7"/><circle cx="1624.0" cy="400.6" r="10.7"/><circle cx="1627.1" cy="419.0" r="10.7"/><circle cx="1627.4" cy="374.6" r="10.7"/><circle cx="1630.2" cy="360.9" r="10.7"/><circle cx="1633.0" cy="357.2" r="10.7"/><circle cx="1635.8" cy="363.5" r="10.7"/><circle cx="1638.1" cy="310.0" r="10.7"/><circle cx="1639.2" cy="399.8" r="10.7"/><circle cx="1642.0" cy="396.6" r="10.7"/><circle cx="1644.2" cy="398.0" r="10.7"/><circle cx="1646.4" cy="394.8" r="10.7"/><circle cx="1649.2" cy="373.3" r="10.7"/><circle cx="1651.4" cy="362.2" r="10.7"/><circle cx="1654.2" cy="381.2" r="10.7"/><circle cx="1658.2" cy="356.8" r="10.7"/><circle cx="1661.6" cy="389.0" r="10.7"/><circle cx="1666.2" cy="361.5" r="10.7"/><circle cx="1668.4" cy="369.6" r="10.7"/><circle cx="1671.8" cy="368.6" r="10.7"/><circle cx="1675.2" cy="357.7" r="10.7"/><circle cx="1679.8" cy="340.5" r="10.7"/><circle cx="1684.4" cy="375.2" r="10.7"/><circle cx="1686.6" cy="336.5" r="10.7"/><circle cx="1688.1" cy="368.0" r="10.7"/><circle cx="1689.4" cy="330.0" r="10.7"/><circle cx="1691.6" cy="343.7" r="10.7"/><circle cx="1694.4" cy="320.6" r="10.7"/><circle cx="1696.6" cy="341.7" r="10.7"/><circle cx="1698.8" cy="326.4" r="10.7"/><circle cx="1703.4" cy="297.1" r="10.7"/><circle cx="1705.6" cy="282.7" r="10.7"/><circle cx="1706.1" cy="351.0" r="10.7"/><circle cx="1708.4" cy="313.6" r="10.7"/><circle cx="1711.2" cy="321.9" r="10.7"/><circle cx="1713.4" cy="296.3" r="10.7"/><circle cx="1715.6" cy="265.8" r="10.7"/><circle cx="1718.4" cy="289.0" r="10.7"/><circle cx="1723.0" cy="307.2" r="10.7"/><circle cx="1723.1" cy="333.0" r="10.7"/><circle cx="1727.6" cy="218.0" r="10.7"/><circle cx="1730.4" cy="259.5" r="10.7"/><circle cx="1734.4" cy="271.6" r="10.7"/><circle cx="1737.2" cy="224.1" r="10.7"/><circle cx="1739.4" cy="210.2" r="10.7"/><circle cx="1740.1" cy="215.0" r="10.7"/><circle cx="1743.4" cy="265.5" r="10.7"/><circle cx="1746.2" cy="228.7" r="10.7"/><circle cx="1748.4" cy="244.0" r="10.7"/><circle cx="1751.1" cy="206.0" r="10.7"/><circle cx="1752.4" cy="209.9" r="10.7"/><circle cx="1757.0" cy="226.5" r="10.7"/><circle cx="1760.1" cy="215.0" r="10.7"/><circle cx="1760.4" cy="206.3" r="10.7"/><circle cx="1763.2" cy="240.4" r="10.7"/><circle cx="1765.4" cy="226.7" r="10.7"/><circle cx="1767.6" cy="196.3" r="10.7"/><circle cx="1770.4" cy="233.1" r="10.7"/><circle cx="1772.6" cy="252.6" r="10.7"/><circle cx="1776.0" cy="199.2" r="10.7"/><circle cx="1776.1" cy="182.0" r="10.7"/><circle cx="1779.4" cy="226.4" r="10.7"/><circle cx="1781.1" cy="203.0" r="10.7"/><circle cx="1782.8" cy="268.6" r="10.7"/><circle cx="1786.2" cy="216.2" r="10.7"/><circle cx="1789.1" cy="326.0" r="10.7"/><circle cx="1790.8" cy="260.9" r="10.7"/><circle cx="1795.1" cy="240.0" r="10.7"/><circle cx="1795.4" cy="257.8" r="10.7"/><circle cx="1797.1" cy="211.0" r="10.7"/><circle cx="1799.4" cy="254.0" r="10.7"/><circle cx="1801.6" cy="232.0" r="10.7"/><circle cx="1803.1" cy="228.0" r="10.7"/><circle cx="1804.4" cy="262.9" r="10.7"/><circle cx="1806.6" cy="257.5" r="10.7"/><circle cx="1809.4" cy="239.7" r="10.7"/><circle cx="1812.2" cy="268.5" r="10.7"/><circle cx="1816.2" cy="295.3" r="10.7"/><circle cx="1817.1" cy="326.0" r="10.7"/><circle cx="1820.8" cy="304.0" r="10.7"/><circle cx="1824.8" cy="309.8" r="10.7"/><circle cx="1827.0" cy="281.8" r="10.7"/><circle cx="1829.8" cy="268.1" r="10.7"/><circle cx="1833.1" cy="255.0" r="10.7"/><circle cx="1834.4" cy="303.9" r="10.7"/><circle cx="1837.2" cy="257.7" r="10.7"/><circle cx="1841.8" cy="292.8" r="10.7"/><circle cx="1845.2" cy="293.0" r="10.7"/><circle cx="1849.8" cy="328.4" r="10.7"/><circle cx="1850.1" cy="337.0" r="10.7"/><circle cx="1852.6" cy="312.5" r="10.7"/><circle cx="1857.2" cy="336.4" r="10.7"/><circle cx="1861.8" cy="334.6" r="10.7"/><circle cx="1865.8" cy="374.4" r="10.7"/><circle cx="1870.4" cy="367.4" r="10.7"/><circle cx="1874.4" cy="376.4" r="10.7"/><circle cx="1876.6" cy="374.4" r="10.7"/><circle cx="1880.6" cy="387.3" r="10.7"/><circle cx="1885.2" cy="402.8" r="10.7"/><circle cx="1889.2" cy="375.5" r="10.7"/><circle cx="1891.4" cy="400.1" r="10.7"/><circle cx="1893.1" cy="373.0" r="10.7"/><circle cx="1896.0" cy="401.8" r="10.7"/></g>
</g>
<g id="axes" stroke="#000" stroke-width="6" fill="none" stroke-linecap="butt">
<path d="M322.3 54.8 V1457.0 M319.3 1457.0 H2250.4 M2247.4 1475.0 V54.8 M2250.4 54.8 H319.3"/>
<path d="M322.3 54.8 H293.3" stroke-linecap="round"/>
<path d="M322.3 230.0 H307.3" stroke-linecap="round"/>
<path d="M322.3 405.3 H293.3" stroke-linecap="round"/>
<path d="M322.3 580.6 H307.3" stroke-linecap="round"/>
<path d="M322.3 755.9 H293.3" stroke-linecap="round"/>
<path d="M322.3 931.1 H307.3" stroke-linecap="round"/>
<path d="M322.3 1106.4 H293.3" stroke-linecap="round"/>
<path d="M322.3 1281.7 H307.3" stroke-linecap="round"/>
<path d="M322.3 1456.9 H293.3" stroke-linecap="round"/>
<path d="M322.3 1457.0 V1484.5" stroke-linecap="round"/>
<path d="M497.3 1457.0 V1472.0" stroke-linecap="round"/>
<path d="M672.3 1457.0 V1484.5" stroke-linecap="round"/>
<path d="M847.3 1457.0 V1472.0" stroke-linecap="round"/>
<path d="M1022.3 1457.0 V1484.5" stroke-linecap="round"/>
<path d="M1197.3 1457.0 V1472.0" stroke-linecap="round"/>
<path d="M1372.4 1457.0 V1484.5" stroke-linecap="round"/>
<path d="M1547.4 1457.0 V1472.0" stroke-linecap="round"/>
<path d="M1722.4 1457.0 V1484.5" stroke-linecap="round"/>
<path d="M1897.4 1457.0 V1472.0" stroke-linecap="round"/>
<path d="M2072.4 1457.0 V1484.5" stroke-linecap="round"/>
</g>
<g font-family="'Liberation Serif',serif" font-weight="bold" font-size="96" fill="#000">
<text x="271" y="81.5" text-anchor="end">0.1</text>
<text x="271" y="432.0" text-anchor="end">0.0</text>
<text x="271" y="782.6" text-anchor="end">-0.1</text>
<text x="271" y="1133.1" text-anchor="end">-0.2</text>
<text x="271" y="1483.6" text-anchor="end">-0.3</text>
<text x="322.3" y="1579.3" text-anchor="middle">0</text>
<text x="672.3" y="1579.3" text-anchor="middle">100</text>
<text x="1022.3" y="1579.3" text-anchor="middle">200</text>
<text x="1372.4" y="1579.3" text-anchor="middle">300</text>
<text x="1722.4" y="1579.3" text-anchor="middle">400</text>
<text x="2072.4" y="1579.3" text-anchor="middle">500</text>
<text x="1292.3" y="1702" text-anchor="middle">T (K)</text>
<text transform="translate(88,804.7) rotate(-90)" text-anchor="middle">DLTS (pF)</text>
</g>
<g id="legend">
<rect x="358.8" y="68.8" width="563" height="202" fill="#fff" stroke="#000" stroke-width="2.2"/>
<path d="M394 133.5 H536" stroke="#000" stroke-width="3"/>
<rect x="456" y="124.5" width="18" height="18" fill="#000"/>
<path d="M394 231.5 H536" stroke="#f00" stroke-width="3"/>
<circle cx="464.7" cy="231.5" r="10.7" fill="#f00"/>
<g font-family="'Liberation Serif',serif" font-weight="bold" font-size="78.6" fill="#000">
<text x="554" y="154">As Grown</text>
<text x="554" y="252.7">Irradiated</text>
</g></g>
<g font-family="'Liberation Serif',serif" font-weight="bold" fill="#000">
<text x="1155.5" y="140.6" font-size="62">i-200nm</text>
<text x="951" y="262.6" font-size="62">V<tspan dy="33">R</tspan><tspan dy="-33">=-0.5 V, V</tspan><tspan dy="33">p</tspan><tspan dy="-33">=0 V,t</tspan><tspan dy="33">p</tspan><tspan dy="-33">=1ms</tspan></text>
</g>
<g font-family="'Liberation Sans',sans-serif" font-weight="bold" fill="#000">
<text transform="translate(882.5,671.7) scale(1,1.045)" font-size="82.5">E3</text>
<text transform="translate(1854.8,226.2) scale(1,1.045)" font-size="84.2">H<tspan dy="26.2">1</tspan></text>
<text transform="translate(351.2,1411.9) scale(1,1.035)" font-size="74.5">Sample S1</text>
</g>
<g id="inset">
<rect x="1637.5" y="614.0" width="17" height="19.6" fill="#000"/>
<rect x="1704.9" y="660.2" width="17" height="19.6" fill="#000"/>
<rect x="1778.0" y="708.8" width="17" height="19.6" fill="#000"/>
<rect x="1852.0" y="787.9" width="17" height="19.6" fill="#000"/>
<rect x="1448.9" y="759.5" width="17" height="19.6" fill="#000"/>
<rect x="1454.4" y="835.9" width="17" height="19.6" fill="#000"/>
<rect x="1460.8" y="912.2" width="17" height="19.6" fill="#000"/>
<rect x="1467.5" y="1015.2" width="17" height="19.6" fill="#000"/>
<rect x="1475.4" y="1090.2" width="17" height="19.6" fill="#000"/>
<rect x="1483.2" y="1165.2" width="17" height="19.6" fill="#000"/>
<path d="M1650.0 607.0 L1661.8 629.6 H1638.2 Z" fill="#f00"/>
<path d="M1734.5 645.5 L1746.3 668.1 H1722.7 Z" fill="#f00"/>
<path d="M1838.0 682.5 L1849.8 705.1 H1826.2 Z" fill="#f00"/>
<path d="M1987.8 740.0 L1999.6 762.6 H1976.0 Z" fill="#f00"/>
<path d="M1460.0 752.5 L1471.8 775.1 H1448.2 Z" fill="#f00"/>
<path d="M1464.2 830.5 L1476.0 853.1 H1452.4 Z" fill="#f00"/>
<path d="M1471.4 905.8 L1483.2 928.4 H1459.6 Z" fill="#f00"/>
<path d="M1479.4 1006.5 L1491.2 1029.1 H1467.6 Z" fill="#f00"/>
<path d="M1650.2 622.7 L1987.7 753.5" stroke="#f00" stroke-width="10" stroke-linecap="round"/>
<path d="M1645.5 621 L1862 795.5" stroke="#000" stroke-width="11"/>
<path d="M1456 763 L1492 1190" stroke="#000" stroke-width="9.5" stroke-linecap="round"/>
<path d="M1460.5 762 L1481.5 1022" stroke="#f00" stroke-width="9.5" stroke-linecap="round"/>
<g stroke="#000" fill="none">
<path d="M1235.7 463.0 V1296.6" stroke-width="4.6"/>
<path d="M2219.5 463.0 V1314.6" stroke-width="5"/>
<path d="M1233.7 463.0 H2222.0" stroke-width="5.5"/>
<path d="M1233.7 1296.6 H2222.0" stroke-width="6"/>
<g stroke-width="5" stroke-linecap="round">
<path d="M1235.7 463.0 H1221.2"/>
<path d="M1235.7 522.5 H1228.2"/>
<path d="M1235.7 582.1 H1221.2"/>
<path d="M1235.7 641.6 H1228.2"/>
<path d="M1235.7 701.2 H1221.2"/>
<path d="M1235.7 760.7 H1228.2"/>
<path d="M1235.7 820.3 H1221.2"/>
<path d="M1235.7 879.8 H1228.2"/>
<path d="M1235.7 939.3 H1221.2"/>
<path d="M1235.7 998.9 H1228.2"/>
<path d="M1235.7 1058.4 H1221.2"/>
<path d="M1235.7 1118.0 H1228.2"/>
<path d="M1235.7 1177.5 H1221.2"/>
<path d="M1235.7 1237.1 H1228.2"/>
<path d="M1235.7 1296.6 H1221.2"/>
<path d="M1235.7 1296.6 V1312.6"/>
<path d="M1284.9 1296.6 V1304.6"/>
<path d="M1334.1 1296.6 V1312.6"/>
<path d="M1383.3 1296.6 V1304.6"/>
<path d="M1432.5 1296.6 V1312.6"/>
<path d="M1481.7 1296.6 V1304.6"/>
<path d="M1530.8 1296.6 V1312.6"/>
<path d="M1580.0 1296.6 V1304.6"/>
<path d="M1629.2 1296.6 V1312.6"/>
<path d="M1678.4 1296.6 V1304.6"/>
<path d="M1727.6 1296.6 V1312.6"/>
<path d="M1776.8 1296.6 V1304.6"/>
<path d="M1826.0 1296.6 V1312.6"/>
<path d="M1875.2 1296.6 V1304.6"/>
<path d="M1924.4 1296.6 V1312.6"/>
<path d="M1973.6 1296.6 V1304.6"/>
<path d="M2022.7 1296.6 V1312.6"/>
<path d="M2071.9 1296.6 V1304.6"/>
<path d="M2121.1 1296.6 V1312.6"/>
<path d="M2170.3 1296.6 V1304.6"/>
<path d="M2219.5 1296.6 V1312.6"/>
</g></g>
<g font-family="'Liberation Sans',sans-serif">
<text transform="translate(1212.5,471.0) scale(0.82,1.04)" font-size="34" text-anchor="end" fill="#000" font-weight="bold" >-2</text>
<text transform="translate(1212.5,590.1) scale(0.82,1.04)" font-size="34" text-anchor="end" fill="#000" font-weight="bold" >-3</text>
<text transform="translate(1212.5,709.2) scale(0.82,1.04)" font-size="34" text-anchor="end" fill="#000" font-weight="bold" >-4</text>
<text transform="translate(1212.5,828.3) scale(0.82,1.04)" font-size="34" text-anchor="end" fill="#000" font-weight="bold" >-5</text>
<text transform="translate(1212.5,947.3) scale(0.82,1.04)" font-size="34" text-anchor="end" fill="#000" font-weight="bold" >-6</text>
<text transform="translate(1212.5,1066.4) scale(0.82,1.04)" font-size="34" text-anchor="end" fill="#000" font-weight="bold" >-7</text>
<text transform="translate(1212.5,1185.5) scale(0.82,1.04)" font-size="34" text-anchor="end" fill="#000" font-weight="bold" >-8</text>
<text transform="translate(1212.5,1304.6) scale(0.82,1.04)" font-size="34" text-anchor="end" fill="#000" font-weight="bold" >-9</text>
<text transform="translate(1235.7,1348.5) scale(0.86,1.04)" font-size="34" text-anchor="middle" fill="#000" font-weight="bold" >0</text>
<text transform="translate(1334.1,1348.5) scale(0.86,1.04)" font-size="34" text-anchor="middle" fill="#000" font-weight="bold" >1</text>
<text transform="translate(1432.5,1348.5) scale(0.86,1.04)" font-size="34" text-anchor="middle" fill="#000" font-weight="bold" >2</text>
<text transform="translate(1530.8,1348.5) scale(0.86,1.04)" font-size="34" text-anchor="middle" fill="#000" font-weight="bold" >3</text>
<text transform="translate(1629.2,1348.5) scale(0.86,1.04)" font-size="34" text-anchor="middle" fill="#000" font-weight="bold" >4</text>
<text transform="translate(1727.6,1348.5) scale(0.86,1.04)" font-size="34" text-anchor="middle" fill="#000" font-weight="bold" >5</text>
<text transform="translate(1826.0,1348.5) scale(0.86,1.04)" font-size="34" text-anchor="middle" fill="#000" font-weight="bold" >6</text>
<text transform="translate(1924.4,1348.5) scale(0.86,1.04)" font-size="34" text-anchor="middle" fill="#000" font-weight="bold" >7</text>
<text transform="translate(2022.7,1348.5) scale(0.86,1.04)" font-size="34" text-anchor="middle" fill="#000" font-weight="bold" >8</text>
<text transform="translate(2121.1,1348.5) scale(0.86,1.04)" font-size="34" text-anchor="middle" fill="#000" font-weight="bold" >9</text>
<text transform="translate(2219.5,1348.5) scale(0.86,1.04)" font-size="34" text-anchor="middle" fill="#000" font-weight="bold" >10</text>
<text transform="translate(1689.5,1441.7) scale(0.84,1.04)" font-size="40" text-anchor="middle" fill="#000" font-weight="bold" >1000/T</text>
<text transform="translate(1151,883.5) rotate(-90) scale(0.85,1.04)" font-size="41" font-weight="bold" text-anchor="middle" letter-spacing="4">Ln(e<tspan dy="14.4">n</tspan><tspan dy="-14.4">/T</tspan><tspan dy="-18.3">2</tspan><tspan dy="18.3">)</tspan></text>
<text transform="translate(1232.5,747.6) scale(0.853,1.04)" font-size="66" font-weight="bold" fill="#f00">Ea <tspan font-size="41" font-weight="normal">(</tspan>H<tspan dy="14.6">1i</tspan><tspan dy="-14.6" font-size="41" font-weight="normal">)</tspan>=0.89± 0.09</text>
<text transform="translate(1604.5,570.8) scale(0.853,1.04)" font-size="66" font-weight="bold" fill="#f00">Ea <tspan font-size="41" font-weight="normal">(</tspan>E<tspan dy="14.6">3i</tspan><tspan dy="-14.6" font-size="41" font-weight="normal">)</tspan>=0.027± 0.007</text>
<text transform="translate(1593.5,906.6) scale(0.853,1.04)" font-size="66" font-weight="bold" fill="#000">Ea <tspan font-size="41" font-weight="normal">(</tspan>E<tspan dy="14.6">3</tspan><tspan dy="-14.6" font-size="41" font-weight="normal">)</tspan>=0.056± 0.009</text>
<text transform="translate(1318.5,1253.9) scale(0.853,1.04)" font-size="66" font-weight="bold" fill="#000">Ea <tspan font-size="41" font-weight="normal">(</tspan>H<tspan dy="14.6">1</tspan><tspan dy="-14.6" font-size="41" font-weight="normal">)</tspan>=0.83± 0.07</text>
<text transform="translate(1512,1123.7) scale(0.853,1.04)" font-size="66" text-anchor="start" fill="#000" font-weight="bold" >H<tspan dy="15.3">1</tspan></text>
<text transform="translate(2016,809.8) scale(0.853,1.04)" font-size="66" text-anchor="start" fill="#000" font-weight="bold" >E<tspan dy="15.6">3</tspan></text>
<text transform="translate(1968.5,1157.4) scale(0.825,1.04)" font-size="52" text-anchor="start" fill="#000" font-weight="bold" >Sample S1</text>
<rect x="1951.5" y="1175.5" width="256" height="105.5" fill="#fff" stroke="#000" stroke-width="2"/>
<rect x="2005" y="1202.5" width="17.5" height="20.5" fill="#000"/>
<path d="M2013.6 1241.5 L2026 1265 H2001.5 Z" fill="#f00"/>
<text transform="translate(2057,1224.6) scale(0.94,1.04)" font-size="33.5" text-anchor="start" fill="#000" font-weight="normal" stroke="#000" stroke-width="1">As-Grown</text>
<text transform="translate(2057,1268.4) scale(0.955,1.04)" font-size="33.5" text-anchor="start" fill="#f00" font-weight="normal" stroke="#f00" stroke-width="1">Irradiated</text>
</g></g>
</svg>
</body></html>
